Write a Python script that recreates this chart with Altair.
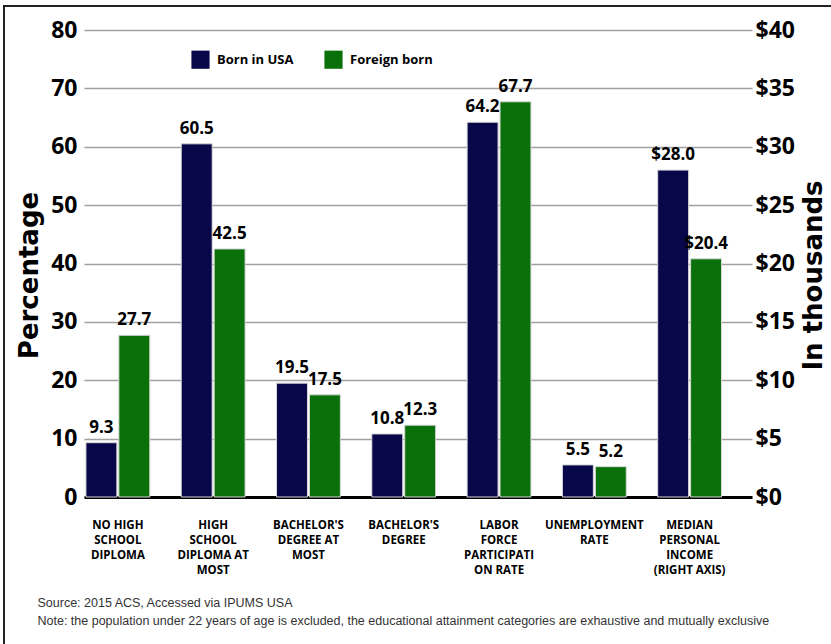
import altair as alt
import pandas as pd

categories = [
    "NO HIGH|SCHOOL|DIPLOMA",
    "HIGH|SCHOOL|DIPLOMA AT|MOST",
    "BACHELOR'S|DEGREE AT|MOST",
    "BACHELOR'S|DEGREE",
    "LABOR|FORCE|PARTICIPATI|ON RATE",
    "UNEMPLOYMENT|RATE",
    "MEDIAN|PERSONAL|INCOME|(RIGHT AXIS)",
]
groups = ["Born in USA", "Foreign born"]
born_usa = [9.3, 60.5, 19.5, 10.8, 64.2, 5.5, 28.0]
foreign_born = [27.7, 42.5, 17.5, 12.3, 67.7, 5.2, 20.4]
right_axis_category = "MEDIAN|PERSONAL|INCOME|(RIGHT AXIS)"
colors = ["#07074a", "#0a700a"]
source_lines = [
    "Source: 2015 ACS, Accessed via IPUMS USA",
    "Note: the population under 22 years of age is excluded, the educational attainment categories are exhaustive and mutually exclusive",
]

rows = []
for c, a, b in zip(categories, born_usa, foreign_born):
    rows.append({"category": c, "group": groups[0], "value": a})
    rows.append({"category": c, "group": groups[1], "value": b})
df = pd.DataFrame(rows)

FONT = "Open Sans"
TITLE_FONT = "DejaVu Sans"

x_enc = alt.X(
    "category:N",
    sort=categories,
    scale=alt.Scale(domain=categories, paddingInner=0.33, paddingOuter=0.17, align=0.06),
    axis=alt.Axis(
        title=source_lines,
        titleFont="Liberation Sans",
        titleFontSize=12.5,
        titleFontWeight="normal",
        titleColor="#333333",
        titleLineHeight=18,
        titleAlign="left",
        titleBaseline="alphabetic",
        titleX=-47,
        titleY=109,
        labelAngle=0,
        labelExpr="split(datum.value, '|')",
        labelFont=FONT,
        labelFontSize=11.5,
        labelFontWeight="bold",
        labelColor="#000000",
        labelLineHeight=15,
        labelBaseline="top",
        labelPadding=22,
        labelLimit=200,
        ticks=False,
        domainColor="#000000",
        domainWidth=3,
        grid=False,
    ),
)
xoff = alt.XOffset("group:N", sort=groups, scale=alt.Scale(paddingInner=0.06))
color_enc = alt.Color(
    "group:N",
    sort=groups,
    scale=alt.Scale(domain=groups, range=colors),
    legend=alt.Legend(
        title=None,
        orient="none",
        legendX=107,
        legendY=20,
        direction="horizontal",
        symbolType="square",
        symbolSize=330,
        symbolStrokeWidth=0,
        labelFont=FONT,
        labelFontSize=13,
        labelFontWeight="bold",
        labelColor="#000000",
        columnPadding=30,
        labelOffset=7,
    ),
)

left_base = alt.Chart(df).transform_filter(
    alt.datum.category != right_axis_category
)
y_left = alt.Y(
    "value:Q",
    scale=alt.Scale(domain=[0, 80]),
    axis=alt.Axis(
        title="Percentage",
        orient="left",
        values=[0, 10, 20, 30, 40, 50, 60, 70, 80],
        grid=True,
        gridColor="#a0a0a0",
        gridWidth=1.5,
        ticks=False,
        domain=False,
        labelFont=FONT,
        labelFontSize=23,
        labelFontWeight="bold",
        labelColor="#000000",
        labelPadding=7,
        titleFont=TITLE_FONT,
        titleFontSize=26,
        titleFontWeight="bold",
        titleColor="#000000",
        titlePadding=8,
        titleY=245,
    ),
)
bars_left = left_base.mark_bar(stroke="#d8d8d8", strokeWidth=1).encode(
    x=x_enc, xOffset=xoff, y=y_left, color=color_enc
)
text_left = left_base.mark_text(
    dy=-6, baseline="bottom", font=FONT, fontSize=17, fontWeight="bold", color="#000000"
).encode(
    x=alt.X("category:N", sort=categories),
    xOffset=xoff,
    y=alt.Y("value:Q"),
    text=alt.Text("value:Q", format=".1f"),
)
left = alt.layer(bars_left, text_left)

right_base = alt.Chart(df).transform_filter(
    alt.datum.category == right_axis_category
).transform_calculate(lbl="'$' + format(datum.value, '.1f')")
y_right = alt.Y(
    "value:Q",
    scale=alt.Scale(domain=[0, 40]),
    axis=alt.Axis(
        title="In thousands",
        orient="right",
        values=[0, 5, 10, 15, 20, 25, 30, 35, 40],
        labelExpr="'$' + datum.value",
        grid=False,
        ticks=False,
        domain=False,
        labelFont=FONT,
        labelFontSize=23,
        labelFontWeight="bold",
        labelColor="#000000",
        labelPadding=3,
        titleFont=TITLE_FONT,
        titleFontSize=26,
        titleFontWeight="bold",
        titleColor="#000000",
        titleAngle=270,
        titleBaseline="top",
        titlePadding=6,
        titleY=245,
    ),
)
bars_right = right_base.mark_bar(stroke="#d8d8d8", strokeWidth=1).encode(
    x=x_enc, xOffset=xoff, y=y_right, color=color_enc
)
text_right = right_base.mark_text(
    dy=-6, baseline="bottom", font=FONT, fontSize=17, fontWeight="bold", color="#000000"
).encode(
    x=alt.X("category:N", sort=categories),
    xOffset=xoff,
    y=alt.Y("value:Q"),
    text="lbl:N",
)
right = alt.layer(bars_right, text_right)

frame = alt.Chart(pd.DataFrame({"k": [0]})).mark_rect(
    fillOpacity=0, stroke="#222222", strokeWidth=2
).encode(
    x=alt.value(-80), x2=alt.value(900), y=alt.value(-24), y2=alt.value(700)
)

chart = (
    alt.layer(left, right, frame)
    .resolve_scale(y="independent")
    .properties(
        width=668,
        height=467,
        background="white",
        autosize=alt.AutoSizeParams(type="none"),
        padding={"left": 84, "top": 30, "right": 79, "bottom": 147},
    )
    .configure_view(stroke="transparent", strokeWidth=0)
)

chart.save("out.html", embed_options={"renderer": "svg", "actions": False})
